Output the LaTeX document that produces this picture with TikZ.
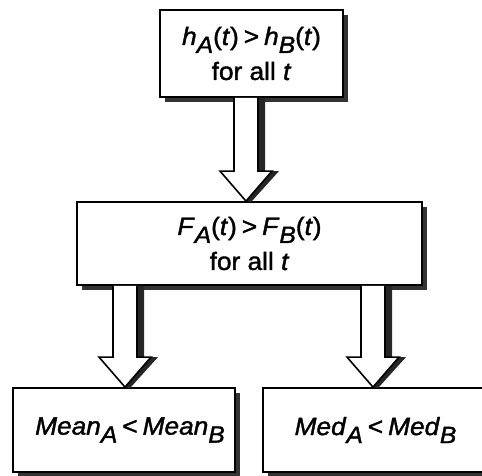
\documentclass[tikz,border=0pt]{standalone}
\usepackage{fontspec}
\setmainfont{Liberation Sans}[FakeStretch=1.05, FakeBold=1.5]
\usetikzlibrary{shadows,calc}
\newcommand\sbs[1]{\raisebox{-8pt}{\fontsize{23.5}{23.5}\selectfont\itshape #1}}
\tikzset{
  box/.style={draw=black, line width=1.8pt, fill=white, inner sep=0pt,
    align=center, font=\fontsize{25}{35}\selectfont,
    drop shadow={shadow xshift=5pt, shadow yshift=-5pt, fill=black!80, opacity=1}},
  arrowbody/.style={draw=black, line width=1.6pt, fill=white, line join=miter},
  arrowshadow/.style={fill=black!85, draw=none}
}
\newcommand\blkarrow[3]{%
  \path let \p1=(#2.south), \p2=(#3.north) in
    [arrowshadow] ({#1pt+12pt+7pt},{\y1}) -- ({#1pt+12pt+7pt},{\y2+30pt}) -- ({#1pt+26pt+7pt},{\y2+30pt})
      -- ({#1pt+5pt},{\y2-1pt}) -- ({#1pt},{\y2}) -- ({#1pt-12pt},{\y1}) -- cycle;
  \path let \p1=(#2.south), \p2=(#3.north) in
    [arrowbody] ({#1pt-12pt},{\y1}) -- ({#1pt-12pt},{\y2+30pt}) -- ({#1pt-26pt},{\y2+30pt})
      -- ({#1pt},{\y2}) -- ({#1pt+26pt},{\y2+30pt}) -- ({#1pt+12pt},{\y2+30pt})
      -- ({#1pt+12pt},{\y1});
}
\begin{document}
\begin{tikzpicture}[x=1pt,y=-1pt]
\useasboundingbox (0,0) rectangle (482,476);
\clip (0,0) rectangle (482,476);
\node[box, minimum width=183pt, minimum height=87pt] (top) at (251.5,53.5)
  {\textit{h}\sbs{A}(\textit{t})\kern5pt>\kern5pt\textit{h}\sbs{B}(\textit{t})\\for all \textit{t}};
\node[box, minimum width=345pt, minimum height=83pt] (mid) at (249.5,243.5)
  {\textit{F}\sbs{A}(\textit{t})\kern5pt>\kern5pt\textit{F}\sbs{B}(\textit{t})\\for all \textit{t}};
\node[box, minimum width=222pt, minimum height=84pt] (mean) at (124,430)
  {\hspace*{12pt}\raisebox{4pt}{\textit{Mean}\sbs{A}\kern5pt<\kern5pt\textit{Mean}\sbs{B}}};
\node[box, minimum width=225pt, minimum height=84pt] (med) at (375.5,430)
  {\raisebox{4pt}{\textit{Med}\sbs{A}\kern5pt<\kern5pt\textit{Med}\sbs{B}}};
\blkarrow{246}{top}{mid}
\blkarrow{125}{mid}{mean}
\blkarrow{373}{mid}{med}
\end{tikzpicture}
\end{document}
